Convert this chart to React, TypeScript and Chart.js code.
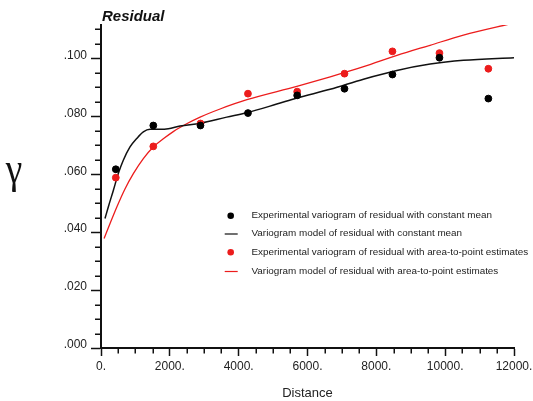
import React, { useEffect, useRef } from "react";
import { Chart, registerables } from "chart.js";

Chart.register(...registerables);

// ---- data ----
const lagDistance = [430, 1520, 2890, 4270, 5700, 7075, 8468, 9834, 11255];
const expConstantMean = [0.0617, 0.0768, 0.0768, 0.0811, 0.0872, 0.0895, 0.0944, 0.1002, 0.0861];
const expAreaToPoint = [0.0588, 0.0696, 0.0775, 0.0878, 0.0885, 0.0947, 0.1024, 0.1018, 0.0964];

const modelConstDist = [116, 212, 358, 503, 648, 843, 1038, 1230, 1424, 1715, 1957, 2297, 2878, 3654, 4235, 5107, 5689, 6657, 7626, 8596, 9564, 10532, 12000];
const modelConstVal = [0.0447, 0.0487, 0.0544, 0.0602, 0.0648, 0.0694, 0.0723, 0.0746, 0.0755, 0.0755, 0.0757, 0.0766, 0.0776, 0.0797, 0.0812, 0.0842, 0.0863, 0.0893, 0.0928, 0.0958, 0.0980, 0.0993, 0.1002];

const modelA2PDist = [90, 260, 460, 700, 940, 1230, 1520, 1810, 2100, 2490, 2880, 3460, 4240, 5690, 6660, 7630, 8600, 9560, 10530, 12000];
const modelA2PVal = [0.0378, 0.0429, 0.0487, 0.0550, 0.0602, 0.0654, 0.0694, 0.0722, 0.0747, 0.0774, 0.0797, 0.0825, 0.0857, 0.0903, 0.0936, 0.0971, 0.1010, 0.1045, 0.1080, 0.1122];

const xTickLabels = ["0.", "2000.", "4000.", "6000.", "8000.", "10000.", "12000."];
const yTickLabels = [".000", ".020", ".040", ".060", ".080", ".100"];

const seriesLabels = [
  "Experimental variogram of residual with constant mean",
  "Variogram model of residual with constant mean",
  "Experimental variogram of residual with area-to-point estimates",
  "Variogram model of residual with area-to-point estimates",
];

const BLACK = "#000000";
const RED = "#ec1c1c";
const FONT = '"Liberation Sans", Arial, Helvetica, sans-serif';

const X_MAJOR = 2000;
const X_MINOR = 500;
const Y_MAJOR = 0.02;
const Y_MINOR = 0.005;

const isMajor = (v: number, step: number) => {
  const r = v / step;
  return Math.abs(r - Math.round(r)) < 1e-6;
};

const decorPlugin = {
  id: "decor",
  afterDraw(chart: any) {
    const ctx = chart.ctx as CanvasRenderingContext2D;
    const xs = chart.scales.x;
    const ys = chart.scales.y;
    const area = chart.chartArea;
    ctx.save();
    // minor ticks
    ctx.strokeStyle = "#111";
    ctx.lineWidth = 1.5;
    ys.ticks.forEach((t: any) => {
      if (!isMajor(t.value, Y_MAJOR)) {
        const py = Math.round(ys.getPixelForValue(t.value)) + 0.25;
        ctx.beginPath();
        ctx.moveTo(area.left - 6, py);
        ctx.lineTo(area.left, py);
        ctx.stroke();
      }
    });
    xs.ticks.forEach((t: any) => {
      if (!isMajor(t.value, X_MAJOR)) {
        const px = Math.round(xs.getPixelForValue(t.value)) + 0.25;
        ctx.beginPath();
        ctx.moveTo(px, area.bottom);
        ctx.lineTo(px, area.bottom + 5.5);
        ctx.stroke();
      }
    });

    // title
    ctx.fillStyle = "#111";
    ctx.font = `italic bold 15px ${FONT}`;
    ctx.textAlign = "left";
    ctx.textBaseline = "alphabetic";
    ctx.fillText("Residual", area.left + 1, 20.5);

    // y-axis symbol
    ctx.save();
    ctx.translate(14, 183);
    ctx.scale(0.85, 1);
    ctx.font = `44px "Liberation Serif", "Times New Roman", serif`;
    ctx.textAlign = "center";
    ctx.fillText("γ", 0, 0);
    ctx.restore();

    // x-axis title
    ctx.font = `13px ${FONT}`;
    ctx.textAlign = "center";
    ctx.textBaseline = "middle";
    ctx.fillStyle = "#222";
    ctx.fillText("Distance", (area.left + area.right) / 2, 393);

    // legend
    const rows = [215.7, 233.5, 252.3, 271];
    const markX = 230.7;
    const textX = 251.5;
    ctx.font = `9.9px ${FONT}`;
    ctx.textAlign = "left";
    ctx.textBaseline = "middle";
    chart.data.datasets.forEach((ds: any, i: number) => {
      const yy = rows[i];
      if (ds.type === "scatter") {
        ctx.fillStyle = ds.backgroundColor;
        ctx.beginPath();
        ctx.arc(markX, yy, 3.3, 0, Math.PI * 2);
        ctx.fill();
      } else {
        ctx.strokeStyle = ds.borderColor;
        ctx.lineWidth = 1.2;
        ctx.beginPath();
        ctx.moveTo(markX - 6, yy + 0.5);
        ctx.lineTo(markX + 7, yy + 0.5);
        ctx.stroke();
      }
      ctx.fillStyle = "#222";
      ctx.fillText(ds.label, textX, yy);
    });
    ctx.restore();
  },
};

export default function App() {
  const canvasRef = useRef<HTMLCanvasElement | null>(null);

  useEffect(() => {
    if (!canvasRef.current) return;
    const toXY = (xsArr: number[], ysArr: number[]) => xsArr.map((x, i) => ({ x, y: ysArr[i] }));

    const chart = new Chart(canvasRef.current, {
      type: "scatter",
      data: {
        datasets: [
          {
            type: "scatter",
            label: seriesLabels[0],
            data: toXY(lagDistance, expConstantMean),
            backgroundColor: BLACK,
            borderColor: BLACK,
            pointRadius: 3.4,
            order: 0,
          },
          {
            type: "line",
            label: seriesLabels[1],
            data: toXY(modelConstDist, modelConstVal),
            borderColor: "#111",
            backgroundColor: "#111",
            borderWidth: 1.5,
            pointRadius: 0,
            fill: false,
            cubicInterpolationMode: "monotone",
            order: 2,
          },
          {
            type: "scatter",
            label: seriesLabels[2],
            data: toXY(lagDistance, expAreaToPoint),
            backgroundColor: RED,
            borderColor: RED,
            pointRadius: 3.4,
            order: 1,
          },
          {
            type: "line",
            label: seriesLabels[3],
            data: toXY(modelA2PDist, modelA2PVal),
            borderColor: RED,
            backgroundColor: RED,
            borderWidth: 1.3,
            pointRadius: 0,
            fill: false,
            cubicInterpolationMode: "monotone",
            order: 3,
          },
        ] as any,
      },
      options: {
        responsive: false,
        animation: false,
        events: [],
        layout: { padding: { top: 25, right: 19, left: 0, bottom: 0 } },
        plugins: {
          legend: { display: false },
          title: { display: false },
          tooltip: { enabled: false },
        },
        scales: {
          x: {
            type: "linear",
            min: 0,
            max: 12000,
            afterBuildTicks: (scale: any) => {
              const t = [];
              for (let v = 0; v <= 12000 + 1e-6; v += X_MINOR) t.push({ value: v });
              scale.ticks = t;
            },
            afterFit: (scale: any) => {
              scale.height = 53;
              scale.paddingLeft = 0;
              scale.paddingRight = 0;
            },
            ticks: {
              autoSkip: false,
              maxRotation: 0,
              padding: 3,
              color: "#222",
              font: { family: FONT, size: 12 },
              callback: (v: any) => (isMajor(Number(v), X_MAJOR) ? xTickLabels[Math.round(Number(v) / X_MAJOR)] : ""),
            },
            grid: {
              display: true,
              drawOnChartArea: false,
              drawTicks: true,
              tickLength: 8,
              tickWidth: 1.5,
              tickColor: (c: any) => (c.tick && isMajor(c.tick.value, X_MAJOR) ? "#111" : "rgba(0,0,0,0)"),
            },
            border: { display: true, color: "#111", width: 2 },
          },
          y: {
            type: "linear",
            min: 0,
            max: 0.1115,
            afterBuildTicks: (scale: any) => {
              const t = [];
              for (let i = 0; i <= 22; i++) t.push({ value: i * Y_MINOR });
              scale.ticks = t;
            },
            afterFit: (scale: any) => {
              scale.width = 101;
            },
            ticks: {
              autoSkip: false,
              padding: 4,
              labelOffset: -3,
              color: "#222",
              font: { family: FONT, size: 12 },
              callback: (v: any) => (isMajor(Number(v), Y_MAJOR) ? yTickLabels[Math.round(Number(v) / Y_MAJOR)] : ""),
            },
            grid: {
              display: true,
              drawOnChartArea: false,
              drawTicks: true,
              tickLength: 10,
              tickWidth: 1.5,
              tickColor: (c: any) => (c.tick && isMajor(c.tick.value, Y_MAJOR) ? "#111" : "rgba(0,0,0,0)"),
            },
            border: { display: true, color: "#111", width: 2 },
          },
        },
      } as any,
      plugins: [decorPlugin],
    });

    return () => chart.destroy();
  }, []);

  return (
    <div style={{ position: "fixed", left: 0, top: 0, width: 533, height: 401, background: "#fff" }}>
      <canvas ref={canvasRef} width={533} height={401} style={{ display: "block" }} />
    </div>
  );
}
